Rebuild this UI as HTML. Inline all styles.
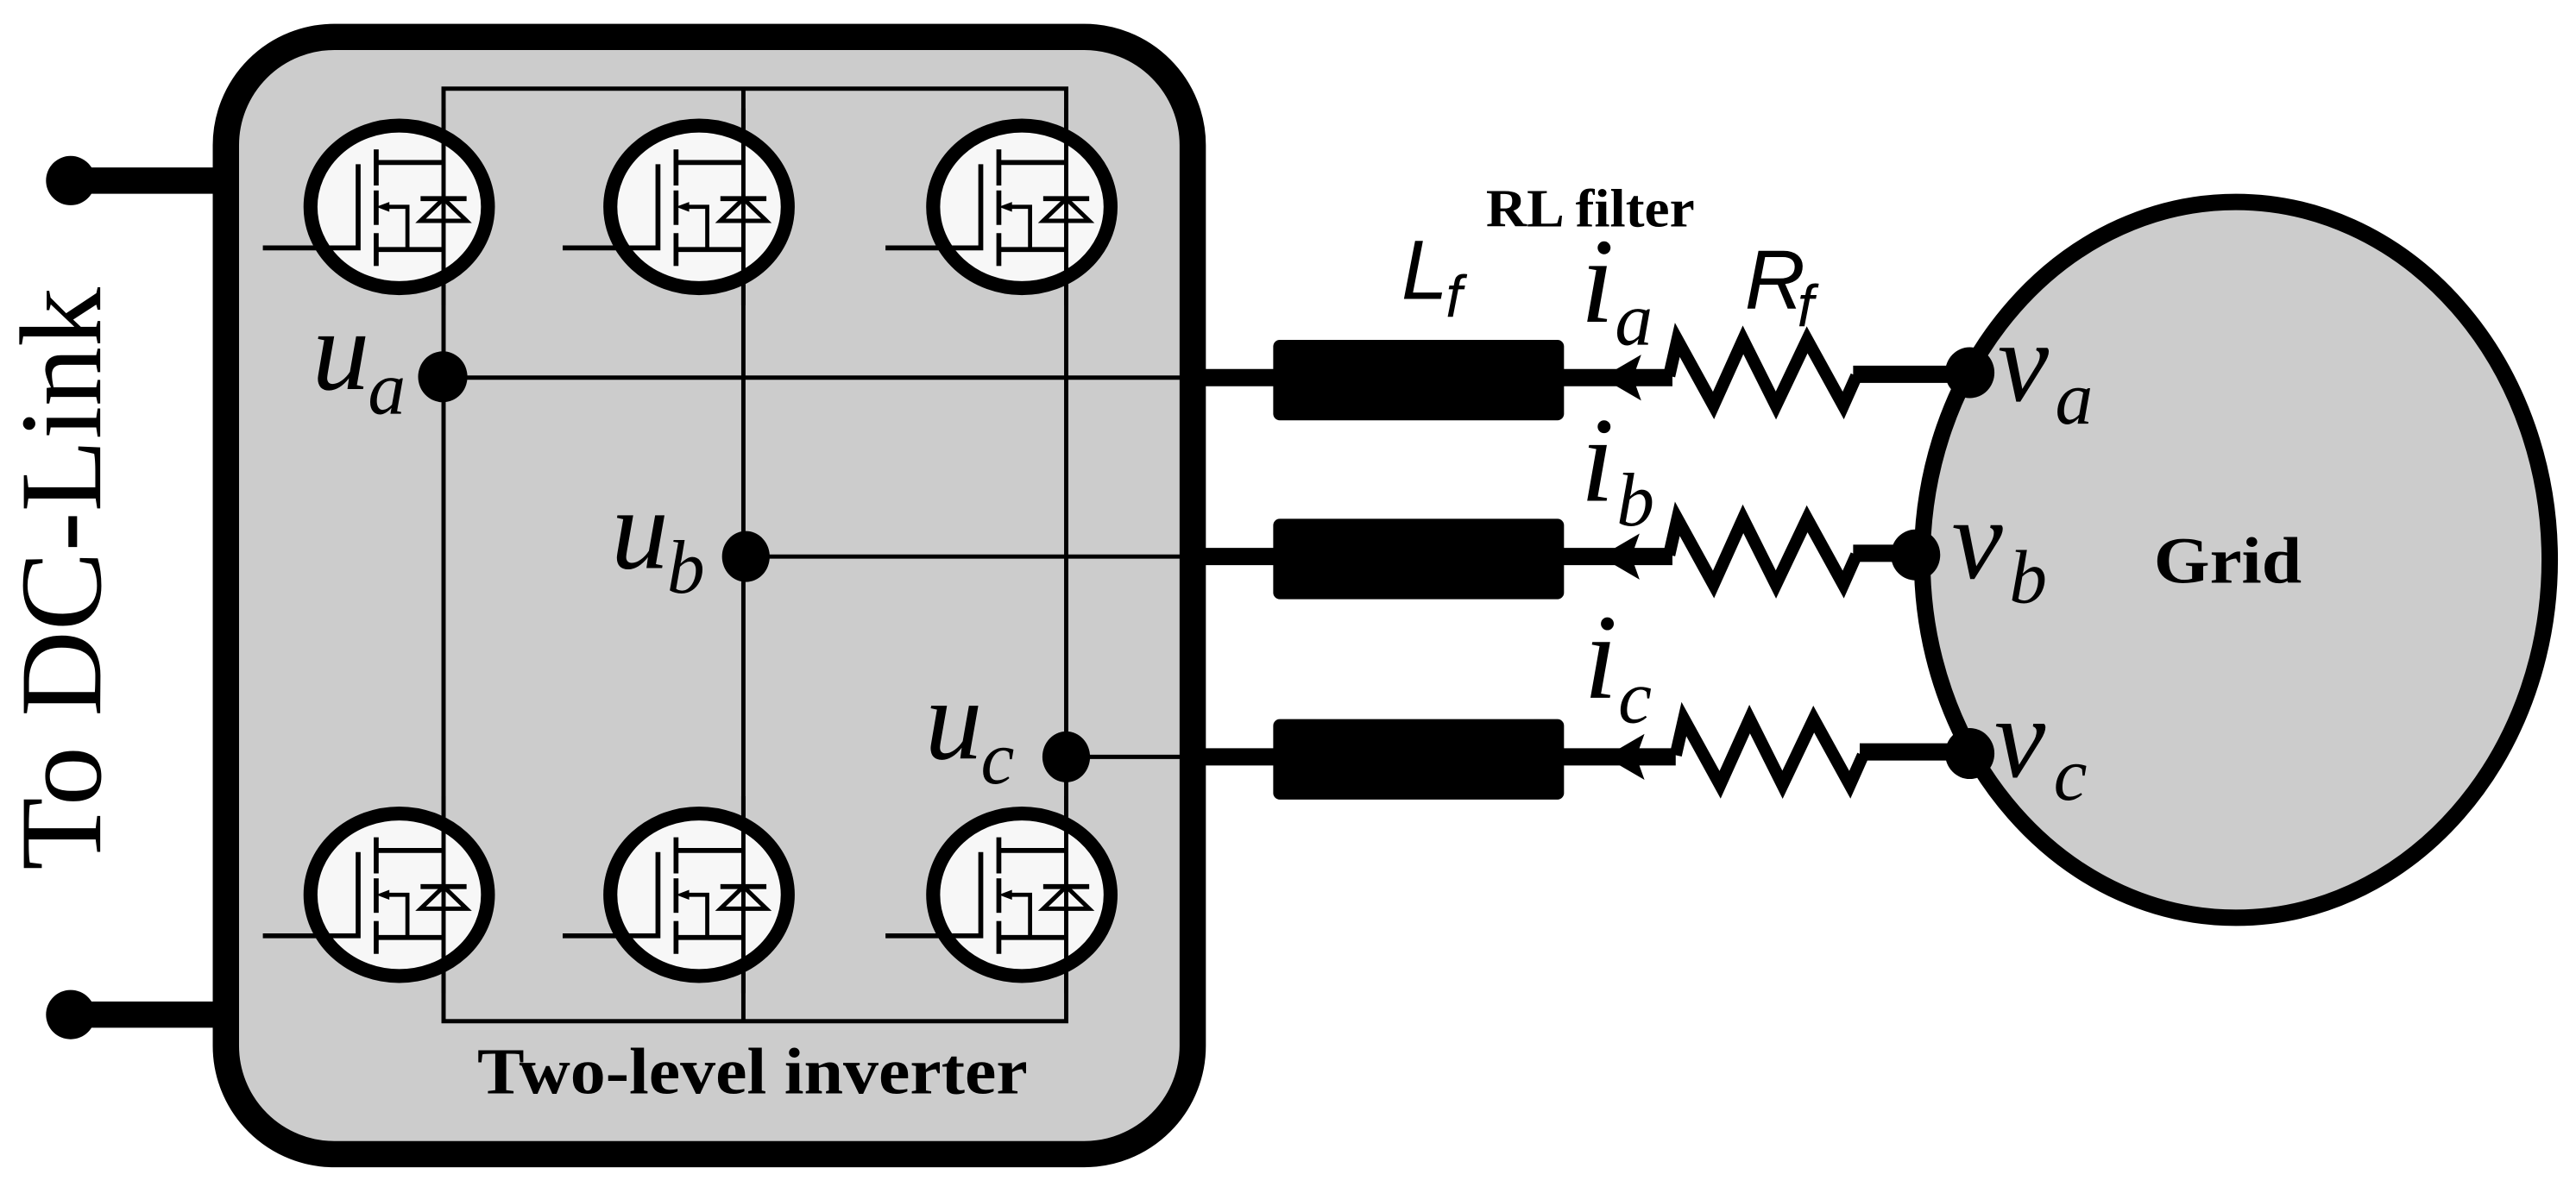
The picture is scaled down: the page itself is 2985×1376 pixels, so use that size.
<!DOCTYPE html>
<html><head><meta charset="utf-8"><style>
html,body{margin:0;padding:0;background:#fff;}
svg{display:block;}
.ser{font-family:"Liberation Serif","Times New Roman",serif;}
.san{font-family:"Liberation Sans",Arial,sans-serif;}
</style></head><body>
<svg width="2985" height="1376" viewBox="0 0 1568 723" preserveAspectRatio="none" xmlns="http://www.w3.org/2000/svg">
<defs>
<g id="mos">
  <ellipse cx="-27" cy="0" rx="54" ry="49.5" fill="#f7f7f7" stroke="#000" stroke-width="8.5"/>
  <line x1="0" y1="-60" x2="0" y2="60" stroke="#000" stroke-width="2.6"/>
  <line x1="-41" y1="-27" x2="0" y2="-27" stroke="#000" stroke-width="3"/>
  <line x1="-41" y1="26" x2="0" y2="26" stroke="#000" stroke-width="3"/>
  <line x1="-41" y1="-35" x2="-41" y2="-13" stroke="#000" stroke-width="3"/>
  <line x1="-41" y1="-10" x2="-41" y2="11" stroke="#000" stroke-width="3"/>
  <line x1="-41" y1="16" x2="-41" y2="36" stroke="#000" stroke-width="3"/>
  <polyline points="-52,-26 -52,25 -110,25" fill="none" stroke="#000" stroke-width="3"/>
  <polyline points="-37,0 -22,0 -22,26" fill="none" stroke="#000" stroke-width="2.5"/>
  <polygon points="-41,0 -33,-3 -33,3" fill="#000"/>
  <line x1="-14" y1="-5" x2="14" y2="-5" stroke="#000" stroke-width="3"/>
  <polygon points="0,-5 -14,8.5 14,8.5" fill="none" stroke="#000" stroke-width="2.6"/>
</g>
<g id="res">
  <polyline points="0,0 5,-22 27,18 45,-22 65,18 84,-22 106,18 114,0" fill="none" stroke="#000" stroke-width="7.5" stroke-linejoin="miter"/>
</g>
<g id="arr">
  <polygon points="0,0 24,-14 19,0 24,14" fill="#000"/>
</g>
</defs>

<line x1="43" y1="110" x2="140" y2="110" stroke="#000" stroke-width="16"/>
<line x1="43" y1="618" x2="140" y2="618" stroke="#000" stroke-width="16"/>
<circle cx="43" cy="110" r="15" fill="#000"/>
<circle cx="43" cy="618" r="15" fill="#000"/>
<text class="ser" transform="translate(61,530) rotate(-90)" font-size="71" textLength="355" lengthAdjust="spacingAndGlyphs">To DC-Link</text>

<rect x="137.5" y="22.5" width="588.5" height="680.5" rx="66" ry="66" fill="#cccccc" stroke="#000" stroke-width="16"/>

<rect x="270" y="54" width="379" height="568" fill="none" stroke="#000" stroke-width="2.6"/>
<line x1="452.5" y1="54" x2="452.5" y2="622" stroke="#000" stroke-width="2.6"/>

<use href="#mos" x="270" y="126"/>
<use href="#mos" x="452.5" y="126"/>
<use href="#mos" x="649" y="126"/>
<use href="#mos" x="270" y="545"/>
<use href="#mos" x="452.5" y="545"/>
<use href="#mos" x="649" y="545"/>

<line x1="270" y1="230" x2="734" y2="230" stroke="#000" stroke-width="2.6"/>
<line x1="452.5" y1="339" x2="734" y2="339" stroke="#000" stroke-width="2.6"/>
<line x1="649" y1="461" x2="734" y2="461" stroke="#000" stroke-width="2.6"/>
<ellipse cx="269.5" cy="229.5" rx="15" ry="15.5" fill="#000"/>
<ellipse cx="454" cy="339" rx="14.5" ry="15.5" fill="#000"/>
<ellipse cx="649" cy="461" rx="14.5" ry="15.5" fill="#000"/>

<g class="ser" font-style="italic">
<text x="190" y="237" font-size="70">u</text><text x="224" y="252" font-size="46">a</text>
<text x="372" y="346" font-size="70">u</text><text x="406" y="361" font-size="46">b</text>
<text x="563" y="462" font-size="70">u</text><text x="597" y="477" font-size="46">c</text>
</g>

<text class="ser" x="458" y="666" text-anchor="middle" font-weight="bold" font-size="40" textLength="335" lengthAdjust="spacingAndGlyphs">Two-level inverter</text>

<ellipse cx="1361" cy="341" rx="191" ry="218" fill="#cccccc" stroke="#000" stroke-width="10"/>
<text class="ser" x="1356" y="355" text-anchor="middle" font-weight="bold" font-size="40" textLength="90" lengthAdjust="spacingAndGlyphs">Grid</text>

<g stroke="#000" stroke-width="10.5">
<line x1="733" y1="230" x2="1018" y2="230"/>
<line x1="1128" y1="228" x2="1199" y2="228"/>
<line x1="733" y1="339" x2="1018" y2="339"/>
<line x1="1128" y1="337" x2="1166" y2="337"/>
<line x1="733" y1="461" x2="1020" y2="461"/>
<line x1="1132" y1="458" x2="1199" y2="458"/>
</g>
<rect x="775" y="207" width="177" height="49" rx="4" fill="#000"/>
<rect x="775" y="316" width="177" height="49" rx="4" fill="#000"/>
<rect x="775" y="438" width="177" height="49" rx="4" fill="#000"/>
<use href="#arr" x="975" y="230"/>
<use href="#arr" x="974" y="339"/>
<use href="#arr" x="977" y="461"/>
<use href="#res" x="1016" y="229"/>
<use href="#res" x="1016" y="338"/>
<use href="#res" x="1020" y="460"/>
<ellipse cx="1199" cy="227" rx="15" ry="15.5" fill="#000"/>
<ellipse cx="1166" cy="338" rx="15" ry="15.5" fill="#000"/>
<ellipse cx="1199" cy="459" rx="15" ry="15.5" fill="#000"/>

<g class="ser" font-style="italic">
<text x="962" y="196" font-size="74">i</text><text x="983" y="210" font-size="46">a</text>
<text x="962" y="305" font-size="74">i</text><text x="984" y="320" font-size="46">b</text>
<text x="964" y="425" font-size="74">i</text><text x="985" y="440" font-size="46">c</text>
<text x="1216" y="244" font-size="70">v</text><text x="1251" y="258" font-size="46">a</text>
<text x="1188" y="352" font-size="70">v</text><text x="1223" y="367" font-size="46">b</text>
<text x="1214" y="473" font-size="70">v</text><text x="1250" y="487" font-size="46">c</text>
</g>
<g class="san" font-style="italic">
<text x="853" y="182" font-size="51">L</text><text x="880" y="193" font-size="36">f</text>
<text x="1062" y="188" font-size="51">R</text><text x="1094" y="199" font-size="36">f</text>
</g>
<text class="ser" x="968" y="138" text-anchor="middle" font-weight="bold" font-size="33" textLength="127" lengthAdjust="spacingAndGlyphs">RL filter</text>
</svg>
</body></html>
